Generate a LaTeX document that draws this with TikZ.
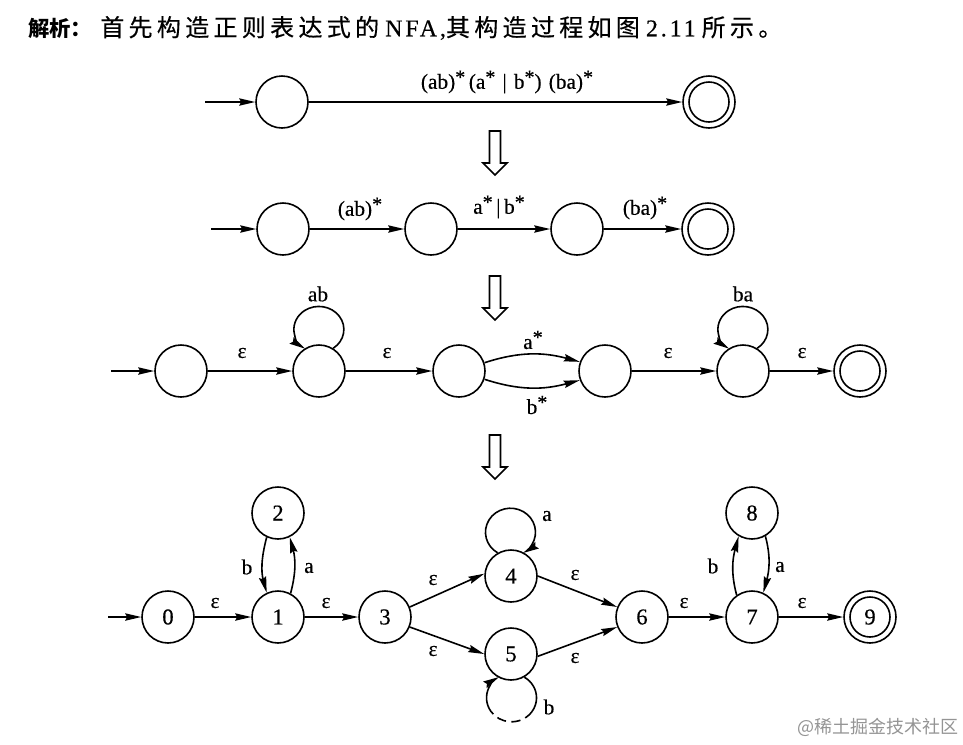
\documentclass[tikz,border=0pt]{standalone}
\usepackage{fontspec}
\setmainfont[FakeBold=0.4]{Liberation Serif}
\newfontfamily\cjk{Noto Sans CJK SC}
\newfontfamily\cjkh[LetterSpace=18,FakeBold=0.4]{Noto Sans CJK SC}
\newfontfamily\serh[LetterSpace=12,FakeBold=0.4]{Liberation Serif}
\usetikzlibrary{arrows.meta}
\tikzset{
  st/.style={draw,circle,minimum size=39pt,inner sep=0pt,line width=1.2pt,font=\fontsize{17}{17}\selectfont},
  lab/.style={inner sep=0pt,font=\fontsize{16}{16}\selectfont},
  ar/.style={line width=1.2pt,-{Stealth[length=12pt,width=5.5pt,inset=1.5pt]}},
  ln/.style={line width=1.2pt},
  inner/.style={line width=1.2pt},
  hollow/.style={draw,line width=1.2pt,fill=white}
}
\newcommand{\hollowarrow}[1]{\draw[hollow,shift={(495,#1)}] (-5.5,0) -- (5.5,0) -- (5.5,32) -- (12,32) -- (0,44) -- (-12,32) -- (-5.5,32) -- cycle;}
\newcommand{\stp}{{\fontsize{15}{15}\selectfont\raisebox{0.25em}{*}}}
\begin{document}
\begin{tikzpicture}[x=0.75pt,y=-0.75pt]
\useasboundingbox (0,0) rectangle (963,744);
% heading
\node[anchor=west,inner sep=0pt,font=\fontsize{16}{16}\bfseries\cjk] (hd1) at (28,28) {解析：};
\node[anchor=west,inner sep=0pt,font=\fontsize{18}{18}\selectfont] (hd2) at (100,28) {{\cjkh 首先构造正则表达式的} {\serh NFA,}{\cjkh 其构造过程如图} {\serh 2.11} {\cjkh 所示。}};
% row 1
\coordinate (e1) at (205,102);
\node[st] (a0) at (282,102) {};
\node[st] (a1) at (709,102) {};
\draw[inner] (a1) circle [radius=20];
\draw[ar] (e1) -- (a0);
\draw[ar] (a0) -- (a1);
\node[lab] (la) at (507,82) {(ab)\stp\,(a\stp\,\,|\,\,b\stp)\,\,(ba)\stp};
\hollowarrow{131}
% row 2
\coordinate (e2) at (211,229);
\node[st] (b0) at (283,229) {};
\node[st] (b1) at (431,229) {};
\node[st] (b2) at (577,229) {};
\node[st] (b3) at (708,229) {};
\draw[inner] (b3) circle [radius=20];
\draw[ar] (e2) -- (b0);
\draw[ar] (b0) -- (b1);
\draw[ar] (b1) -- (b2);
\draw[ar] (b2) -- (b3);
\node[lab] (lb1) at (360,209) {(ab)\stp};
\node[lab] (lb2) at (499,207) {a\stp\,|\,b\stp};
\node[lab] (lb3) at (645,208) {(ba)\stp};
\hollowarrow{276}
% row 3
\coordinate (e3) at (111,371);
\node[st] (c0) at (181,371) {};
\node[st] (c1) at (319,371) {};
\node[st] (c2) at (459,371) {};
\node[st] (c3) at (605,371) {};
\node[st] (c4) at (743,371) {};
\node[st] (c5) at (860,371) {};
\draw[inner] (c5) circle [radius=20];
\draw[ar] (e3) -- (c0);
\draw[ar] (c0) -- (c1);
\draw[ar] (c1) -- (c2);
\draw[ar] (c2.18) to[out=18,in=165] (c3.160);
\draw[ar] (c2.-18) to[out=-18,in=-165] (c3.-160);
\draw[ar] (c3) -- (c4);
\draw[ar] (c4) -- (c5);
\draw[ar] (c1.58) arc[start angle=55,end angle=-237,x radius=25,y radius=23];
\draw[ar] (c4.58) arc[start angle=55,end angle=-237,x radius=25,y radius=23];
\node[lab] (lc1) at (242,353) {ε};
\node[lab] (lc2) at (387,353) {ε};
\node[lab] (lc3) at (533,340) {a\stp};
\node[lab] (lc4) at (537,405) {b\stp};
\node[lab] (lc5) at (668,353) {ε};
\node[lab] (lc6) at (802,353) {ε};
\node[lab] (lc7) at (318,294) {ab};
\node[lab] (lc8) at (743,294) {ba};
\hollowarrow{435}
% row 4
\coordinate (e4) at (108,617);
\node[st] (n0) at (168,617) {0};
\node[st] (n1) at (278,617) {1};
\node[st] (n2) at (278,513) {2};
\node[st] (n3) at (385,617) {3};
\node[st] (n4) at (511,576) {4};
\node[st] (n5) at (511,654) {5};
\node[st] (n6) at (642,617) {6};
\node[st] (n7) at (752,617) {7};
\node[st] (n8) at (752,513) {8};
\node[st] (n9) at (870,617) {9};
\draw[inner] (n9) circle [radius=20];
\draw[ar] (e4) -- (n0);
\draw[ar] (n0) -- (n1);
\draw[ar] (n1) -- (n3);
\draw[ar] (n1.62) to[out=75,in=-75] (n2.-64);
\draw[ar] (n2.-115) to[out=-105,in=105] (n1.115);
\draw[ar] (n3.22) -- (n4.175);
\draw[ar] (n3.-22) -- (n5.180);
\draw[ar] (n4.0) -- (n6.158);
\draw[ar] (n5.-5) -- (n6.-158);
\draw[ar] (n6) -- (n7);
\draw[ar] (n7) -- (n9);
\draw[ar] (n7.125) to[out=105,in=-105] (n8.-120);
\draw[ar] (n8.-60) to[out=-75,in=75] (n7.65);
\draw[ar] (n4.120) arc[start angle=121,end angle=420,x radius=25,y radius=24];
\draw[ln] (n5.-60) arc[start angle=-59,end angle=35,x radius=25,y radius=24] coordinate (l5a);
\draw[ln,dash pattern=on 7pt off 4pt] (l5a) arc[start angle=35,end angle=145,x radius=25,y radius=24] coordinate (l5b);
\draw[ar] (l5b) arc[start angle=145,end angle=240,x radius=25,y radius=24];
\node[lab] (l01) at (215,603) {ε};
\node[lab] (l13) at (326,603) {ε};
\node[lab] (lb) at (247,567) {b};
\node[lab] (la2) at (309,568) {a};
\node[lab] (l34) at (433,580) {ε};
\node[lab] (l35) at (433,651) {ε};
\node[lab] (la4) at (547,516) {a};
\node[lab] (lb5) at (549,707) {b};
\node[lab] (l46) at (575,575) {ε};
\node[lab] (l56) at (575,658) {ε};
\node[lab] (l67) at (684,603) {ε};
\node[lab] (lb7) at (713,566) {b};
\node[lab] (la7) at (780,567) {a};
\node[lab] (l79) at (802,603) {ε};
% watermark
\node[anchor=west,inner sep=0pt,text=black!42,font=\fontsize{13.5}{13.5}\cjk] (wm) at (797,727) {@稀土掘金技术社区};
\end{tikzpicture}
\end{document}
